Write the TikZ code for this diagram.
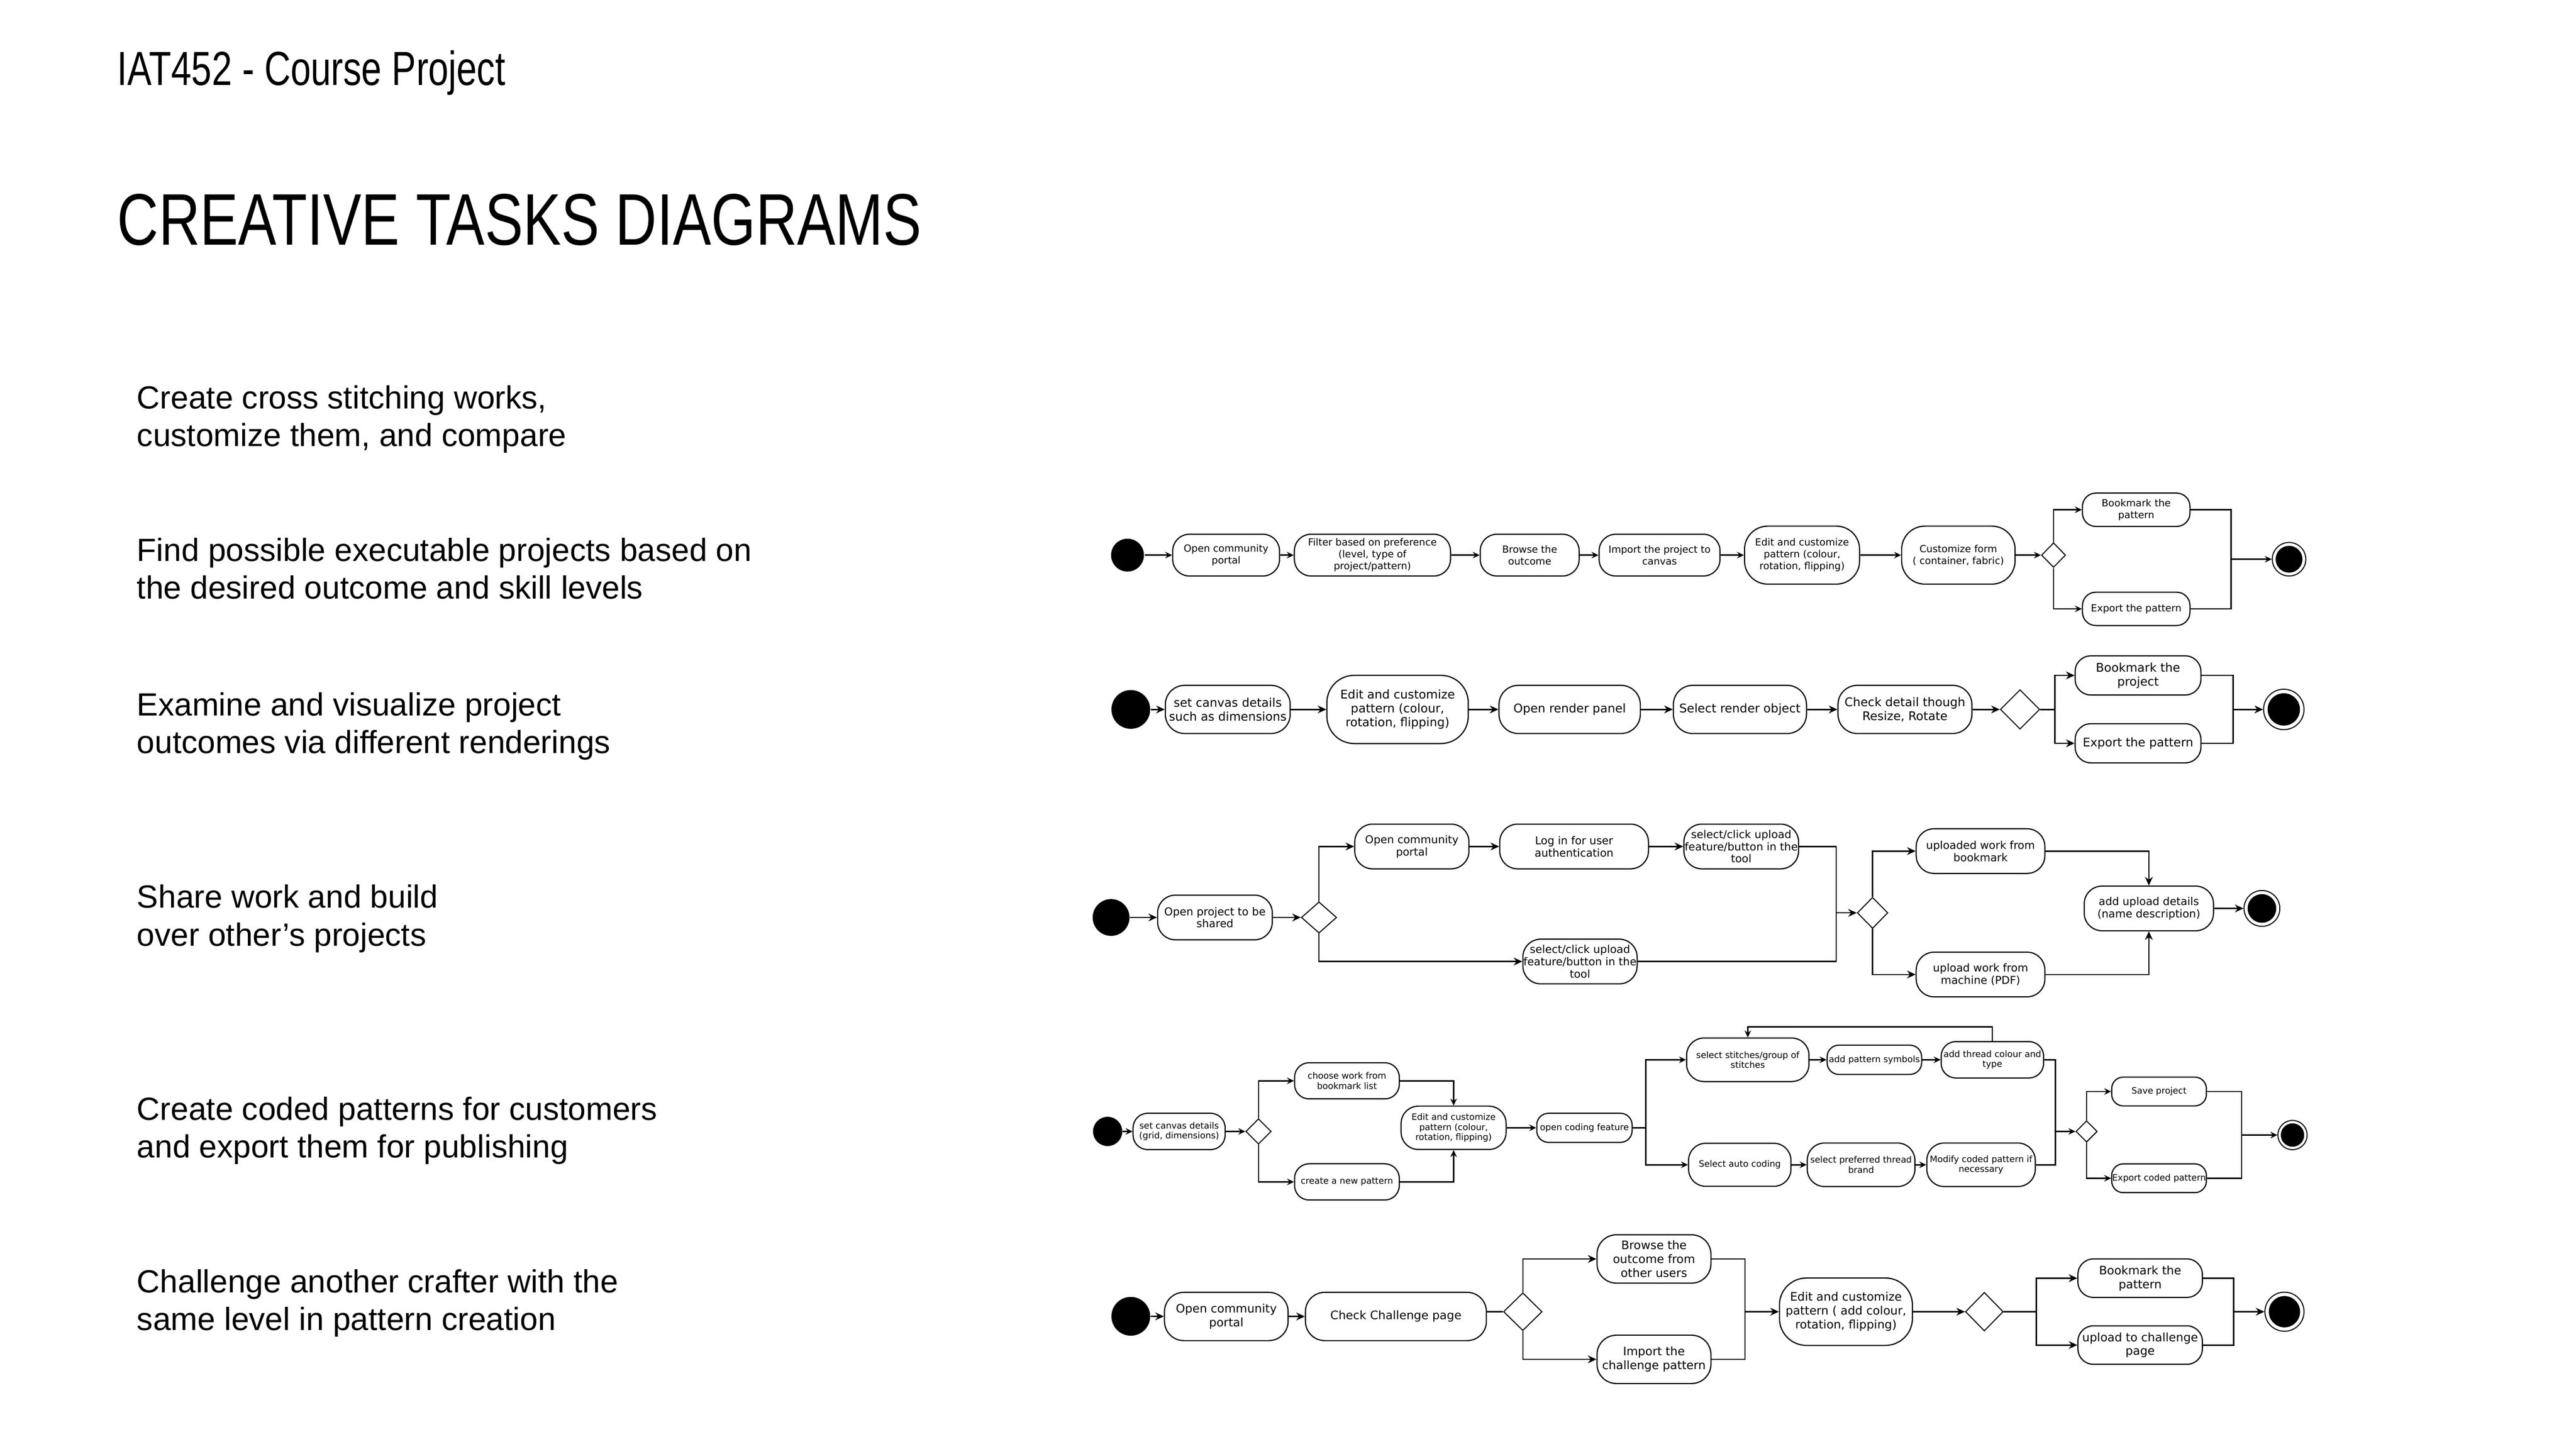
\documentclass[tikz,border=0pt]{standalone}
\usepackage{fontspec}
\setmainfont{Liberation Sans}
\newfontfamily\dejavu{DejaVu Sans}
\newfontfamily\headfont[FakeStretch=0.76]{Liberation Sans}
\newfontfamily\titlefont[FakeStretch=0.785]{Liberation Sans}
\usetikzlibrary{shapes.geometric, arrows.meta}

\tikzset{
  act/.style 2 args={draw, line width=0.4pt, rounded corners=0.4*#2, minimum width=#1, minimum height=#2, align=center, inner sep=0pt},
  dec/.style 2 args={diamond, draw, line width=0.35pt, minimum width=#1, minimum height=#2, inner sep=0pt},
  ini/.style={circle, fill=black, minimum size=#1, inner sep=0pt},
  fin/.style={circle, draw, line width=0.35pt, fill=white, minimum size=#1, inner sep=0pt,
    path picture={\fill[black] (path picture bounding box.center) circle[radius=0.4*#1];}},
  flow/.style={line width=0.45pt, -{Stealth[length=1.05mm, width=0.95mm, inset=0.35mm]}},
  flowsm/.style={line width=0.45pt, -{Stealth[length=0.85mm, width=0.8mm, inset=0.3mm]}},
  wire/.style={line width=0.45pt},
  ft1/.style={font=\dejavu\fontsize{3.4pt}{4.1pt}\selectfont},
  ft2/.style={font=\dejavu\fontsize{4.15pt}{4.8pt}\selectfont},
  ft3/.style={font=\dejavu\fontsize{3.75pt}{4.25pt}\selectfont},
  ft4/.style={font=\dejavu\fontsize{3.05pt}{3.45pt}\selectfont},
  ft5/.style={font=\dejavu\fontsize{4.05pt}{4.8pt}\selectfont},
  desc/.style={anchor=west, align=left, inner sep=0pt, font=\fontsize{11.1pt}{13.04pt}\selectfont}
}

\begin{document}
\begin{tikzpicture}[x=0.2mm, y=-0.2mm]
    \path[fill=white, use as bounding box] (0,0) rectangle (1567.3,881.6);

    % Intestazione
    \node[anchor=base west, inner sep=0pt, font=\headfont\fontsize{16.6pt}{20pt}\selectfont] (subtitle) at (71,52) {IAT452 - Course Project};
    \node[anchor=base west, inner sep=0pt, font=\titlefont\fontsize{25.3pt}{30pt}\selectfont] (title) at (71,149) {CREATIVE TASKS DIAGRAMS};

    % Compiti
    \node[desc] (task_create) at (83,255) {Create cross stitching works,\\customize them, and compare};
    \node[desc] (task_find) at (83,346) {Find possible executable projects based on\\the desired outcome and skill levels};
    \node[desc] (task_render) at (83,442) {Examine and visualize project\\outcomes via different renderings};
    \node[desc] (task_share) at (83,559) {Share work and build\\over other’s projects};
    \node[desc] (task_coded) at (83,688) {Create coded patterns for customers\\and export them for publishing};
    \node[desc] (task_challenge) at (83,793) {Challenge another crafter with the\\same level in pattern creation};

    % Diagramma 1
    \node[ini=4mm] (d1_start) at (686,337.8) {};
    \node[act={13mm}{5.08mm}, ft1] (d1_portal) at (746,337.8) {Open community\\portal};
    \node[act={19mm}{5.08mm}, ft1] (d1_filter) at (835,337.8) {Filter based on preference\\(level, type of\\project/pattern)};
    \node[act={12.04mm}{5.08mm}, ft1] (d1_browse) at (930.7,337.8) {Browse the\\outcome};
    \node[act={14.72mm}{5.08mm}, ft1] (d1_import) at (1009.7,337.8) {Import the project to\\canvas};
    \node[act={14mm}{7.06mm}, ft1] (d1_edit) at (1096.4,337.8) {Edit and customize\\pattern (colour,\\rotation, flipping)};
    \node[act={13.8mm}{7.06mm}, ft1] (d1_form) at (1191.5,337.8) {Customize form\\( container, fabric)};
    \node[dec={2.94mm}{3mm}] (d1_dec) at (1249.4,337.8) {};
    \node[act={13.08mm}{4.06mm}, ft1] (d1_bookmark) at (1299.7,310.2) {Bookmark the\\pattern};
    \node[act={13.08mm}{4.06mm}, ft1] (d1_export) at (1299.7,370.5) {Export the pattern};
    \coordinate (d1_merge) at (1357.4,340.3);
    \node[fin=4.08mm] (d1_end) at (1392.7,340.3) {};

    \draw[flowsm] (d1_start) -- (d1_portal);
    \draw[flowsm] (d1_portal) -- (d1_filter);
    \draw[flowsm] (d1_filter) -- (d1_browse);
    \draw[flowsm] (d1_browse) -- (d1_import);
    \draw[flowsm] (d1_import) -- (d1_edit);
    \draw[flowsm] (d1_edit) -- (d1_form);
    \draw[flowsm] (d1_form) -- (d1_dec);
    \draw[flowsm] (d1_dec.north) |- (d1_bookmark);
    \draw[flowsm] (d1_dec.south) |- (d1_export);
    \draw[wire] (d1_bookmark) -| (d1_merge);
    \draw[wire] (d1_export) -| (d1_merge);
    \draw[flowsm] (d1_merge) -- (d1_end);

    % Diagramma 2
    \node[ini=4.72mm] (d2_start) at (688,431.7) {};
    \node[act={15.2mm}{5.86mm}, ft2] (d2_canvas) at (747,431.7) {set canvas details\\such as dimensions};
    \node[act={17.2mm}{8.3mm}, ft2] (d2_edit) at (850.3,431.7) {Edit and customize\\pattern (colour,\\rotation, flipping)};
    \node[act={17.2mm}{5.86mm}, ft2] (d2_panel) at (955,431.7) {Open render panel};
    \node[act={16.2mm}{5.86mm}, ft2] (d2_object) at (1058.6,431.7) {Select render object};
    \node[act={16.3mm}{5.86mm}, ft2] (d2_check) at (1159,431.7) {Check detail though\\Resize, Rotate};
    \node[dec={4.8mm}{4.8mm}] (d2_dec) at (1229,431.7) {};
    \coordinate (d2_split) at (1250.2,431.7);
    \node[act={15.3mm}{4.76mm}, ft2] (d2_bookmark) at (1300.8,411) {Bookmark the\\project};
    \node[act={15.3mm}{4.76mm}, ft2] (d2_export) at (1300.8,452.3) {Export the pattern};
    \coordinate (d2_merge) at (1358.6,431.7);
    \node[fin=4.92mm] (d2_end) at (1389.5,431.7) {};

    \draw[flow] (d2_start) -- (d2_canvas);
    \draw[flow] (d2_canvas) -- (d2_edit);
    \draw[flow] (d2_edit) -- (d2_panel);
    \draw[flow] (d2_panel) -- (d2_object);
    \draw[flow] (d2_object) -- (d2_check);
    \draw[flow] (d2_check) -- (d2_dec);
    \draw[wire] (d2_dec) -- (d2_split);
    \draw[flow] (d2_split) |- (d2_bookmark);
    \draw[flow] (d2_split) |- (d2_export);
    \draw[wire] (d2_bookmark) -| (d2_merge);
    \draw[wire] (d2_export) -| (d2_merge);
    \draw[flow] (d2_merge) -- (d2_end);

    % Diagramma 3
    \node[ini=4.48mm] (d3_start) at (676,558.3) {};
    \node[act={13.96mm}{5.44mm}, ft3] (d3_open) at (739.2,558.3) {Open project to be\\shared};
    \node[dec={4.3mm}{3.8mm}] (d3_dec) at (802.5,558.3) {};
    \node[act={13.9mm}{5.44mm}, ft3] (d3_portal) at (859,515.1) {Open community\\portal};
    \node[act={18.1mm}{5.44mm}, ft3] (d3_login) at (957.7,515.1) {Log in for user\\authentication};
    \node[act={13.96mm}{5.44mm}, ft3] (d3_upload) at (1059.4,515.1) {select/click upload\\feature/button in the\\tool};
    \node[act={13.9mm}{5.44mm}, ft3] (d3_direct) at (961.3,585.1) {select/click upload\\feature/button in the\\tool};
    \coordinate (d3_merge) at (1117.2,555.5);
    \node[dec={3.72mm}{3.8mm}] (d3_dec2) at (1139.3,555.5) {};
    \node[act={15.66mm}{5.44mm}, ft3] (d3_bookmark) at (1205,517.9) {uploaded work from\\bookmark};
    \node[act={15.66mm}{5.44mm}, ft3] (d3_machine) at (1205,593) {upload work from\\machine (PDF)};
    \node[act={15.74mm}{5.44mm}, ft3] (d3_details) at (1307.4,552.8) {add upload details\\(name description)};
    \node[fin=4.36mm] (d3_end) at (1376.2,552.8) {};

    \draw[flow] (d3_start) -- (d3_open);
    \draw[flow] (d3_open) -- (d3_dec);
    \draw[flow] (d3_dec.north) |- (d3_portal);
    \draw[flow] (d3_portal) -- (d3_login);
    \draw[flow] (d3_login) -- (d3_upload);
    \draw[flow] (d3_dec.south) |- (d3_direct);
    \draw[wire] (d3_upload) -| (d3_merge);
    \draw[wire] (d3_direct) -| (d3_merge);
    \draw[flow] (d3_merge) -- (d3_dec2);
    \draw[flow] (d3_dec2.north) |- (d3_bookmark);
    \draw[flow] (d3_dec2.south) |- (d3_machine);
    \draw[flow] (d3_bookmark) -| (d3_details);
    \draw[flow] (d3_machine) -| (d3_details);
    \draw[flow] (d3_details) -- (d3_end);

    % Diagramma 4
    \node[ini=3.56mm] (d4_start) at (673.9,688.5) {};
    \node[act={11.2mm}{4.42mm}, ft4] (d4_canvas) at (717.4,688.5) {set canvas details\\(grid, dimensions)};
    \node[dec={3.1mm}{3.1mm}] (d4_dec) at (765.7,688.5) {};
    \node[act={12.74mm}{4.4mm}, ft4] (d4_bookmark) at (819.5,657.7) {choose work from\\bookmark list};
    \node[act={12.74mm}{4.4mm}, ft4] (d4_new) at (819.5,719.2) {create a new pattern};
    \node[act={12.78mm}{5.28mm}, ft4] (d4_edit) at (884.4,686.3) {Edit and customize\\pattern (colour,\\rotation, flipping)};
    \node[act={11.6mm}{3.54mm}, ft4] (d4_coding) at (964,686.3) {open coding feature};
    \coordinate (d4_split) at (1001.4,686.3);
    \node[act={14.9mm}{5.3mm}, ft4] (d4_stitch) at (1063.4,644.9) {select stitches/group of\\stitches};
    \node[act={11.5mm}{3.56mm}, ft4] (d4_symbol) at (1140.4,644.9) {add pattern symbols};
    \node[act={12.46mm}{4.42mm}, ft4] (d4_thread) at (1212.2,644.9) {add thread colour and\\type};
    \node[act={12.46mm}{5.24mm}, ft4] (d4_auto) at (1058.5,708.8) {Select auto coding};
    \node[act={13.1mm}{5.3mm}, ft4] (d4_brand) at (1132.3,708.8) {select preferred thread\\brand};
    \node[act={13.2mm}{5.3mm}, ft4] (d4_modify) at (1205.3,708.8) {Modify coded pattern if\\necessary};
    \coordinate (d4_merge) at (1250.5,688.5);
    \node[dec={2.6mm}{2.6mm}] (d4_dec2) at (1269.5,688.5) {};
    \node[act={11.52mm}{3.5mm}, ft4] (d4_save) at (1313.6,664.2) {Save project};
    \node[act={11.52mm}{3.5mm}, ft4] (d4_export) at (1313.6,717) {Export coded pattern};
    \coordinate (d4_merge2) at (1363.8,690.7);
    \node[fin=3.56mm] (d4_end) at (1394.8,690.7) {};

    \draw[flowsm] (d4_start) -- (d4_canvas);
    \draw[flowsm] (d4_canvas) -- (d4_dec);
    \draw[flowsm] (d4_dec.north) |- (d4_bookmark);
    \draw[flowsm] (d4_dec.south) |- (d4_new);
    \draw[flowsm] (d4_bookmark) -| (d4_edit);
    \draw[flowsm] (d4_new) -| (d4_edit);
    \draw[flowsm] (d4_edit) -- (d4_coding);
    \draw[wire] (d4_coding) -- (d4_split);
    \draw[flowsm] (d4_split) |- (d4_stitch);
    \draw[flowsm] (d4_split) |- (d4_auto);
    \draw[flowsm] (d4_stitch) -- (d4_symbol);
    \draw[flowsm] (d4_symbol) -- (d4_thread);
    \draw[flowsm] (d4_thread.north) -- ++(0,-8.6) -| (d4_stitch.north);
    \draw[flowsm] (d4_auto) -- (d4_brand);
    \draw[flowsm] (d4_brand) -- (d4_modify);
    \draw[wire] (d4_thread) -| (d4_merge);
    \draw[wire] (d4_modify) -| (d4_merge);
    \draw[flowsm] (d4_merge) -- (d4_dec2);
    \draw[flowsm] (d4_dec2.north) |- (d4_save);
    \draw[flowsm] (d4_dec2.south) |- (d4_export);
    \draw[wire] (d4_save) -| (d4_merge2);
    \draw[wire] (d4_export) -| (d4_merge2);
    \draw[flowsm] (d4_merge2) -- (d4_end);

    % Diagramma 5
    \node[ini=4.72mm] (d5_start) at (688,801) {};
    \node[act={15.04mm}{5.88mm}, ft5] (d5_portal) at (746.1,801.1) {Open community\\portal};
    \node[act={22.02mm}{5.88mm}, ft5] (d5_check) at (849.3,801.1) {Check Challenge page};
    \node[dec={4.7mm}{4.6mm}] (d5_dec) at (926.5,798.2) {};
    \node[act={13.86mm}{5.88mm}, ft5] (d5_browse) at (1006.3,766.1) {Browse the\\outcome from\\other users};
    \node[act={13.86mm}{5.88mm}, ft5] (d5_import) at (1006.3,827.2) {Import the\\challenge pattern};
    \coordinate (d5_merge) at (1061.6,798.2);
    \node[act={16.18mm}{8.2mm}, ft5] (d5_edit) at (1123.1,798.2) {Edit and customize\\pattern ( add colour,\\rotation, flipping)};
    \node[dec={4.6mm}{4.7mm}] (d5_dec2) at (1207.3,798.2) {};
    \coordinate (d5_split) at (1239,798.2);
    \node[act={15.14mm}{4.68mm}, ft5] (d5_bookmark) at (1302.1,777.8) {Bookmark the\\pattern};
    \node[act={15.14mm}{4.68mm}, ft5] (d5_upload) at (1302.1,818.5) {upload to challenge\\page};
    \coordinate (d5_merge2) at (1359,798.2);
    \node[fin=4.76mm] (d5_end) at (1389.9,798.2) {};

    \draw[flow] (d5_start) -- (d5_portal);
    \draw[flow] (d5_portal) -- (d5_check);
    \draw[wire] (d5_check.east |- d5_dec.west) -- (d5_dec.west);
    \draw[flow] (d5_dec.north) |- (d5_browse);
    \draw[flow] (d5_dec.south) |- (d5_import);
    \draw[wire] (d5_browse) -| (d5_merge);
    \draw[wire] (d5_import) -| (d5_merge);
    \draw[flow] (d5_merge) -- (d5_edit);
    \draw[flow] (d5_edit) -- (d5_dec2);
    \draw[wire] (d5_dec2) -- (d5_split);
    \draw[flow] (d5_split) |- (d5_bookmark);
    \draw[flow] (d5_split) |- (d5_upload);
    \draw[wire] (d5_bookmark) -| (d5_merge2);
    \draw[wire] (d5_upload) -| (d5_merge2);
    \draw[flow] (d5_merge2) -- (d5_end);
\end{tikzpicture}
\end{document}
